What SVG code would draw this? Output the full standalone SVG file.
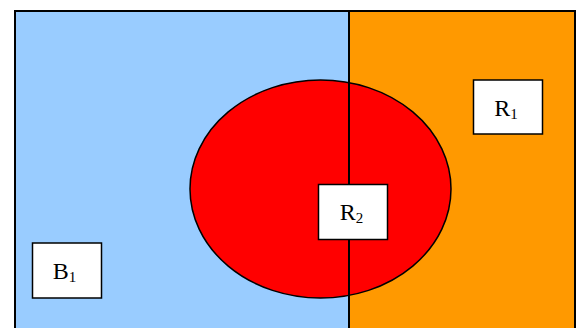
<svg xmlns="http://www.w3.org/2000/svg" width="579" height="328" viewBox="0 0 579 328">
<style>
.lbl{fill:#fff;stroke:#000;stroke-width:1.5}
.t{font-family:"Liberation Serif","Times New Roman",serif;font-size:24px;fill:#000}
.s{font-size:15px}
</style>
<rect x="0" y="0" width="579" height="328" fill="#fff"/>
<g id="region-B">
<rect x="15" y="11" width="334" height="330" fill="#99CCFF" stroke="#000" stroke-width="2"/>
</g>
<g id="region-R">
<rect x="349" y="11" width="226" height="330" fill="#FF9900" stroke="#000" stroke-width="2"/>
</g>
<g id="ellipse">
<ellipse cx="320.5" cy="189" rx="130.5" ry="109" fill="#FF0000" stroke="#000" stroke-width="1.5"/>
</g>
<g id="connectors">
<line x1="349" y1="11" x2="349" y2="328" stroke="#000" stroke-width="2"/>
</g>
<g id="R1">
<rect class="lbl" x="473.5" y="80" width="69" height="54"/>
<text class="t" x="506" y="116" text-anchor="middle">R<tspan class="s" dy="3">1</tspan></text>
</g>
<g id="R2">
<rect class="lbl" x="318.5" y="184.5" width="69" height="55"/>
<text class="t" x="351.5" y="220" text-anchor="middle">R<tspan class="s" dy="3">2</tspan></text>
</g>
<g id="B1">
<rect class="lbl" x="32.5" y="243" width="69" height="55"/>
<text class="t" x="64.5" y="279" text-anchor="middle">B<tspan class="s" dy="3">1</tspan></text>
</g>
</svg>
